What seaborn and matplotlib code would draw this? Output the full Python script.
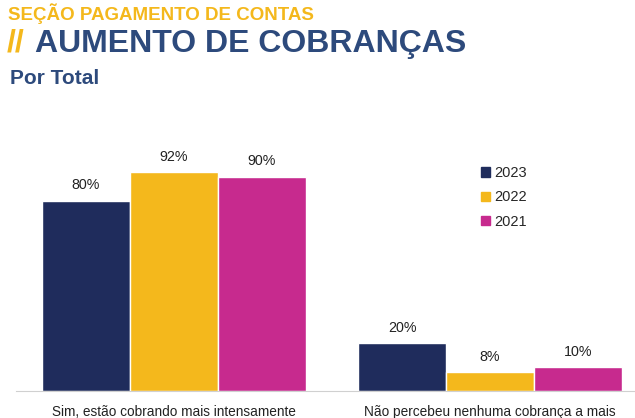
import pandas as pd
import seaborn as sns
import matplotlib.pyplot as plt
from matplotlib.patches import Patch

sns.set_theme(style="white")
plt.rcParams['font.family'] = ['Liberation Sans', 'DejaVu Sans']

# Dados
categorias = ['Sim, estão cobrando mais intensamente', 'Não percebeu nenhuma cobrança a mais']
anos = ['2023', '2022', '2021']
valores_2023 = [80, 20]
valores_2022 = [92, 8]
valores_2021 = [90, 10]
cores = ['#1F2C5C', '#F4B81C', '#C72A8E']

df = pd.DataFrame({
    'Categoria': categorias * 3,
    'Ano': [a for a in anos for _ in categorias],
    'Valor': valores_2023 + valores_2022 + valores_2021,
})

W, H = 635, 418
fig = plt.figure(figsize=(W / 100, H / 100), dpi=100)

# eixo: baseline y=391, 2.38 px por ponto percentual
base = 391
top = base - 100 * 2.38
left = 16
right_full = 648
ax = fig.add_axes([left / W, (H - base) / H, (W - left) / W, (base - top) / H])

sns.barplot(data=df, x='Categoria', y='Valor', hue='Ano', palette=cores,
            width=0.835, gap=0, saturation=1, ax=ax, legend=False)

# xlim para que a área continue além da borda direita
span = (right_full - left) / 2
ax.set_xlim(-0.5, -0.5 + (W - left) / span)
ax.set_ylim(0, 100)

for c in ax.containers:
    ax.bar_label(c, labels=[f'{v:.0f}%' for v in c.datavalues], padding=6,
                 fontsize=10.3, color='#222222')

for s in ['top', 'right', 'left']:
    ax.spines[s].set_visible(False)
ax.spines['bottom'].set_color('#D0D0D0')
ax.spines['bottom'].set_linewidth(0.8)
ax.set_yticks([])
ax.set_xlabel('')
ax.set_ylabel('')
ax.set_xticks([-0.5, 0.5], minor=True)
ax.tick_params(axis='x', which='minor', length=8, color='#D0D0D0', width=0.8)
ax.tick_params(axis='x', which='major', length=0, pad=10, labelsize=9.8, labelcolor='#222222')

handles = [Patch(color=c, label=a) for c, a in zip(cores, anos)]
fig.legend(handles=handles, loc='upper left', bbox_to_anchor=(468 / W, 1 - 153 / H),
           frameon=False, fontsize=10.5, handlelength=0.6, handleheight=0.6,
           handletextpad=0.3, labelspacing=0.7)

# Títulos
fig.text(8 / W, 1 - 14 / H, 'SEÇÃO PAGAMENTO DE CONTAS', color='#F4B81C',
         fontsize=13.5, fontweight='bold', va='center')
fig.text(7 / W, 1 - 44 / H, '//', color='#F4B81C', fontsize=23,
         fontweight='bold', va='center')
fig.text(35 / W, 1 - 44 / H, 'AUMENTO DE COBRANÇAS', color='#2D4A7C',
         fontsize=23, fontweight='bold', va='center')
fig.text(10 / W, 1 - 78 / H, 'Por Total', color='#2D4A7C',
         fontsize=15, fontweight='bold', va='center')

fig.savefig('out.png', dpi=100)
